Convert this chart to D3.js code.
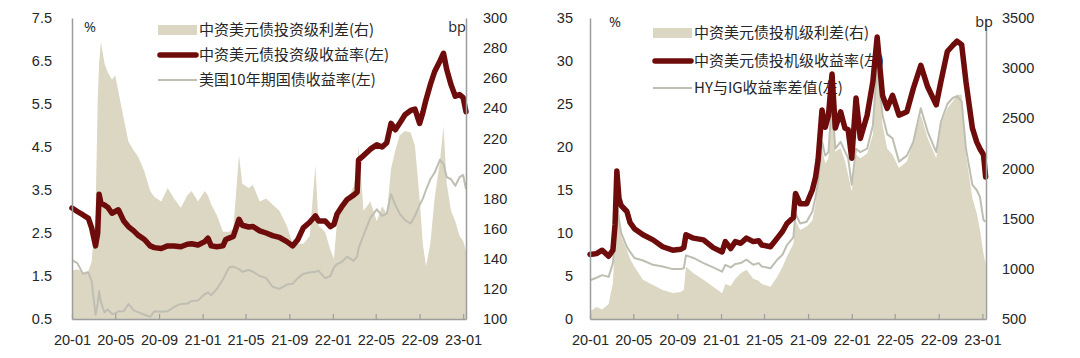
<!DOCTYPE html>
<html><head><meta charset="utf-8">
<script src="https://cdn.jsdelivr.net/npm/d3@7"></script>
<style>body{margin:0;background:#fff}svg{display:block}</style>
</head><body><svg id="c" width="1080" height="358"></svg>
<script>
// ---------- Left chart data (investment grade) ----------
const leftDates = ["2020-01-01","2020-01-16","2020-02-01","2020-02-16","2020-02-25","2020-03-07","2020-03-13","2020-03-17","2020-03-22","2020-04-01","2020-04-10","2020-04-22","2020-05-01","2020-05-10","2020-05-25","2020-06-07","2020-06-22","2020-07-04","2020-07-22","2020-08-07","2020-08-19","2020-09-07","2020-09-25","2020-10-13","2020-11-01","2020-11-19","2020-12-01","2020-12-19","2021-01-07","2021-01-16","2021-01-25","2021-02-10","2021-02-27","2021-03-07","2021-03-16","2021-03-28","2021-04-13","2021-04-22","2021-05-10","2021-05-22","2021-06-10","2021-06-28","2021-07-16","2021-08-04","2021-08-25","2021-09-10","2021-09-25","2021-10-10","2021-10-28","2021-11-13","2021-11-22","2021-12-10","2021-12-25","2022-01-04","2022-01-13","2022-01-25","2022-02-10","2022-02-28","2022-03-10","2022-03-14","2022-03-28","2022-04-16","2022-05-04","2022-05-19","2022-06-01","2022-06-13","2022-06-25","2022-07-07","2022-07-22","2022-08-07","2022-08-19","2022-09-01","2022-09-10","2022-09-19","2022-10-01","2022-10-13","2022-10-28","2022-11-07","2022-11-16","2022-11-28","2022-12-10","2022-12-22","2023-01-01","2023-01-09"];
const igYield = [3.08,3.00,2.92,2.84,2.62,2.20,2.50,3.40,3.20,3.15,3.10,2.96,3.00,3.04,2.78,2.65,2.55,2.45,2.35,2.20,2.16,2.14,2.20,2.20,2.18,2.24,2.25,2.22,2.30,2.38,2.20,2.18,2.20,2.35,2.38,2.42,2.82,2.68,2.64,2.65,2.55,2.50,2.44,2.40,2.30,2.20,2.35,2.62,2.75,2.90,2.78,2.78,2.65,2.70,2.95,3.10,3.28,3.38,3.45,4.20,4.30,4.45,4.55,4.50,4.60,5.05,4.90,5.05,5.25,5.35,5.38,5.05,5.30,5.60,5.95,6.25,6.50,6.68,6.30,5.95,5.68,5.72,5.65,5.32];
const ust10y = [1.87,1.80,1.55,1.58,1.38,0.60,0.85,1.15,0.90,0.65,0.72,0.62,0.63,0.68,0.68,0.85,0.70,0.66,0.60,0.55,0.68,0.67,0.68,0.78,0.85,0.86,0.92,0.93,1.08,1.12,1.05,1.20,1.42,1.55,1.70,1.72,1.66,1.60,1.64,1.60,1.50,1.45,1.25,1.20,1.30,1.32,1.45,1.55,1.58,1.60,1.62,1.45,1.50,1.70,1.78,1.82,1.95,1.85,1.95,2.15,2.45,2.85,3.05,2.90,2.95,3.40,3.15,2.95,2.80,2.72,2.90,3.15,3.30,3.50,3.75,3.90,4.20,4.10,3.80,3.75,3.60,3.80,3.85,3.52];
const igSpread = [132,133,131,132,138,170,245,270,284,270,264,259,262,251,233,218,212,208,198,185,181,178,187,180,174,182,185,178,185,182,176,169,158,158,158,160,209,190,187,189,178,180,176,172,162,150,150,150,155,202,162,158,146,140,166,172,178,188,200,215,172,178,165,175,170,200,212,222,225,224,215,180,150,135,150,180,205,228,190,172,165,155,152,145];

// ---------- Right chart data (high yield) ----------
const rightDates = ["2020-01-01","2020-01-19","2020-02-04","2020-02-22","2020-03-05","2020-03-11","2020-03-16","2020-03-22","2020-03-28","2020-04-13","2020-04-22","2020-05-04","2020-05-28","2020-06-25","2020-07-22","2020-08-19","2020-09-10","2020-09-19","2020-09-25","2020-10-16","2020-11-13","2020-12-10","2021-01-04","2021-01-13","2021-01-28","2021-02-10","2021-02-25","2021-03-13","2021-04-01","2021-04-16","2021-04-25","2021-05-19","2021-06-07","2021-06-22","2021-07-04","2021-07-22","2021-07-28","2021-08-10","2021-08-28","2021-09-13","2021-09-22","2021-09-29","2021-10-10","2021-10-19","2021-10-28","2021-11-07","2021-11-16","2021-12-01","2021-12-13","2021-12-22","2022-01-01","2022-01-13","2022-01-25","2022-02-13","2022-03-01","2022-03-13","2022-03-28","2022-04-10","2022-04-25","2022-05-13","2022-06-04","2022-06-22","2022-07-13","2022-08-01","2022-08-25","2022-09-07","2022-09-25","2022-10-10","2022-10-22","2022-11-04","2022-11-16","2022-12-04","2022-12-16","2022-12-25","2023-01-04","2023-01-10"];
const hyYield = [7.5,7.6,8.0,7.3,8.0,11.0,17.2,14.0,13.2,12.5,11.2,10.5,9.8,9.2,8.4,8.0,8.1,8.3,9.8,9.4,9.2,8.3,7.8,9.0,8.2,9.0,8.8,9.4,9.0,9.1,8.6,8.4,9.4,10.2,11.1,11.8,14.6,13.4,13.4,15.0,16.5,18.5,24.3,22.3,23.7,28.5,22.2,24.1,22.2,22.0,18.7,25.7,21.0,23.7,27.6,32.8,26.0,24.5,26.0,23.7,24.1,26.8,29.5,27.0,24.9,27.6,31.1,31.8,32.3,31.9,27.6,22.2,20.6,19.8,19.1,16.5];
const hyIgDiff = [4.5,4.8,5.1,4.9,6.5,9.5,13.8,11.5,10.0,8.4,7.8,7.1,6.8,6.3,6.1,5.8,5.8,5.9,7.4,7.1,6.5,6.0,5.5,6.3,6.0,6.4,6.5,6.9,6.3,6.5,6.1,5.9,6.9,7.5,8.6,9.5,12.3,11.1,11.3,12.5,14.2,15.9,20.6,19.0,19.4,25.7,19.8,20.6,19.5,18.7,15.6,19.8,19.4,19.8,22.5,29.5,23.7,21.5,21.0,18.3,19.0,20.6,24.5,21.8,19.4,22.9,25.0,25.7,25.9,25.3,19.8,15.6,15.0,14.2,11.5,11.3];
const hySpread = [575,620,595,650,860,1300,1690,1450,1320,1190,1100,1020,890,840,790,760,770,790,1020,955,890,822,756,850,830,900,955,990,900,880,850,822,922,1020,1122,1250,1487,1388,1421,1480,1654,1900,2203,2050,2103,2601,2170,2203,2080,1937,1771,2137,2103,2150,2336,3034,2436,2200,2137,2004,2070,2270,2535,2303,2103,2436,2600,2668,2734,2734,2137,1705,1557,1391,1150,1050];

// ---------- Ticks & labels ----------
const xTickDates = ["2020-01-01","2020-05-01","2020-09-01","2021-01-01","2021-05-01","2021-09-01","2022-01-01","2022-05-01","2022-09-01","2023-01-01"];
const xTickLabels = ["20-01","20-05","20-09","21-01","21-05","21-09","22-01","22-05","22-09","23-01"];
const leftYTicks = [0.5,1.5,2.5,3.5,4.5,5.5,6.5,7.5];
const leftYTickLabels = ["0.5","1.5","2.5","3.5","4.5","5.5","6.5","7.5"];
const leftY2Ticks = [100,120,140,160,180,200,220,240,260,280,300];
const rightYTicks = [0,5,10,15,20,25,30,35];
const rightY2Ticks = [500,1000,1500,2000,2500,3000,3500];
const leftLegend = ["中资美元债投资级利差(右)","中资美元债投资级收益率(左)","美国10年期国债收益率(左)"];
const rightLegend = ["中资美元债投机级利差(右)","中资美元债投机级收益率(左)","HY与IG收益率差值(左)"];

const C_AREA = "#dcd7c3", C_RED = "#6e0b0b", C_GRAY = "#bebeb2", C_AXIS = "#9d9d9d", C_TEXT = "#262626";
const parse = d3.timeParse("%Y-%m-%d");
const svg = d3.select("#c");

function panel(o) {
  const g = svg.append("g");
  const x = d3.scaleTime().domain([parse("2020-01-01"), parse(o.end)]).range([o.x0, o.x1]);
  const yL = d3.scaleLinear().domain(o.yLdom).range([o.yBot, o.yTop]);
  const yR = d3.scaleLinear().domain(o.yRdom).range([o.yBot, o.yTop]);
  const dates = o.dates.map(parse);

  // legend first (lines draw over it)
  const lg = g.append("g").attr("font-family", "'Noto Sans CJK SC', sans-serif").attr("font-size", 15).attr("fill", C_TEXT);
  lg.append("rect").attr("x", o.lgX).attr("y", o.lgY[0] - 5).attr("width", 39).attr("height", 10).attr("fill", C_AREA);
  lg.append("line").attr("x1", o.lgX + 2).attr("x2", o.lgX + 38).attr("y1", o.lgY[1]).attr("y2", o.lgY[1])
    .attr("stroke", C_RED).attr("stroke-width", 5.5).attr("stroke-linecap", "round");
  lg.append("line").attr("x1", o.lgX).attr("x2", o.lgX + 39).attr("y1", o.lgY[2]).attr("y2", o.lgY[2])
    .attr("stroke", C_GRAY).attr("stroke-width", 2);
  o.legend.forEach((t, i) => lg.append("text").attr("x", o.lgX + 41).attr("y", o.lgY[i]).attr("dy", "0.36em").text(t));

  // area (right axis)
  g.append("path").datum(o.area).attr("fill", C_AREA)
    .attr("d", d3.area().x((d, i) => x(dates[i])).y0(o.yBot).y1(d => yR(d)));
  // gray line
  g.append("path").datum(o.gray).attr("fill", "none").attr("stroke", C_GRAY).attr("stroke-width", 2)
    .attr("stroke-linejoin", "round").attr("d", d3.line().x((d, i) => x(dates[i])).y(d => yL(d)));
  // dark red line
  g.append("path").datum(o.red).attr("fill", "none").attr("stroke", C_RED).attr("stroke-width", 5.5)
    .attr("stroke-linejoin", "round").attr("stroke-linecap", "round")
    .attr("d", d3.line().x((d, i) => x(dates[i])).y(d => yL(d)));

  // axes
  const ax = g.append("g").attr("font-family", "'Open Sans', sans-serif");
  const left = ax.append("g").attr("transform", `translate(${o.x0},0)`)
    .call(d3.axisLeft(yL).tickValues(o.yLticks).tickSize(0).tickPadding(o.padL).tickFormat((d, i) => o.yLlabels[i]));
  const right = ax.append("g").attr("transform", `translate(${o.x1},0)`)
    .call(d3.axisRight(yR).tickValues(o.yRticks).tickSize(0).tickPadding(o.padR).tickFormat(d3.format("d")));
  const bottom = ax.append("g").attr("transform", `translate(0,${o.yBot})`)
    .call(d3.axisBottom(x).tickValues(xTickDates.map(parse)).tickSizeInner(-5).tickSizeOuter(0).tickPadding(16)
      .tickFormat((d, i) => xTickLabels[i]));
  [left, right, bottom].forEach(a => {
    a.selectAll("path.domain").attr("stroke", C_AXIS).attr("stroke-width", 1.5);
    a.selectAll(".tick line").attr("stroke", C_AXIS).attr("stroke-width", 1.2);
    a.selectAll("text").attr("font-size", 14.5).attr("fill", C_TEXT);
  });

  // unit labels
  g.append("text").attr("x", o.pctX).attr("y", o.unitY).attr("dy", "0.36em").attr("text-anchor", "middle")
    .attr("font-family", "'Open Sans', sans-serif").attr("font-size", 14.5).attr("fill", C_TEXT).text("%");
  g.append("text").attr("x", o.bpX).attr("y", o.unitY).attr("dy", "0.36em").attr("text-anchor", "end")
    .attr("font-family", "'Open Sans', sans-serif").attr("font-size", 14.5).attr("fill", C_TEXT).text("bp");
}

panel({
  x0: 72, x1: 466, yTop: 18, yBot: 319, end: "2023-01-09",
  yLdom: [0.5, 7.5], yRdom: [100, 300],
  yLticks: leftYTicks, yLlabels: leftYTickLabels, yRticks: leftY2Ticks,
  padL: 20, padR: 17,
  dates: leftDates, area: igSpread, gray: ust10y, red: igYield,
  legend: leftLegend, lgX: 158, lgY: [30, 55, 80],
  pctX: 90, bpX: 466, unitY: 27
});
panel({
  x0: 590, x1: 986, yTop: 18, yBot: 319, end: "2023-01-11",
  yLdom: [0, 35], yRdom: [500, 3500],
  yLticks: rightYTicks, yLlabels: rightYTicks.map(String), yRticks: rightY2Ticks,
  padL: 17, padR: 16,
  dates: rightDates, area: hySpread, gray: hyIgDiff, red: hyYield,
  legend: rightLegend, lgX: 653, lgY: [33, 61, 88],
  pctX: 615, bpX: 993, unitY: 22
});
</script>
</body></html>
